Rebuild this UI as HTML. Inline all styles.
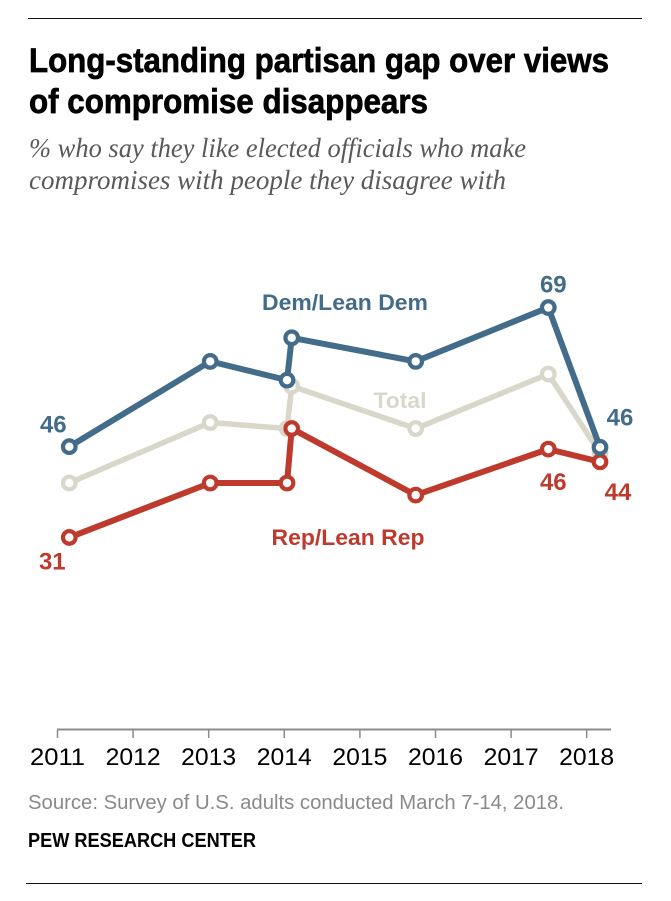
<!DOCTYPE html>
<html lang="en">
<head>
<meta charset="utf-8">
<title>Long-standing partisan gap over views of compromise disappears</title>
<style>
html,body{margin:0;padding:0;background:#fff;}
svg{display:block;}
text{font-family:"Liberation Sans",sans-serif;}
</style>
</head>
<body>
<svg id="chart" xmlns="http://www.w3.org/2000/svg" width="671" height="901" viewBox="0 0 671 901">
  <rect x="0" y="0" width="671" height="901" fill="#fff"/>
  <line x1="28" x2="642" y1="18.5" y2="18.5" stroke="#111" stroke-width="1"/>
  <text x="29" y="72" font-size="34" font-weight="700" fill="#000" stroke="#000" stroke-width="0.7" textLength="580" lengthAdjust="spacingAndGlyphs">Long-standing partisan gap over views</text>
  <text x="29" y="113" font-size="34" font-weight="700" fill="#000" stroke="#000" stroke-width="0.7" textLength="399" lengthAdjust="spacingAndGlyphs">of compromise disappears</text>
  <text x="29" y="157" font-size="27" font-style="italic" fill="#58595b" style="font-family:'Liberation Serif',serif" textLength="497" lengthAdjust="spacingAndGlyphs">% who say they like elected officials who make</text>
  <text x="29" y="189" font-size="27" font-style="italic" fill="#58595b" style="font-family:'Liberation Serif',serif" textLength="477" lengthAdjust="spacingAndGlyphs">compromises with people they disagree with</text>
  <g id="x-axis"></g>
  <g id="series"></g>
  <g id="labels"></g>
  <text x="28" y="809" font-size="20.5" fill="#8a8a8a" textLength="536" lengthAdjust="spacingAndGlyphs">Source: Survey of U.S. adults conducted March 7-14, 2018.</text>
  <text x="28" y="847" font-size="20.5" font-weight="700" fill="#000" textLength="228" lengthAdjust="spacingAndGlyphs">PEW RESEARCH CENTER</text>
  <line x1="26" x2="642" y1="883.5" y2="883.5" stroke="#111" stroke-width="1"/>
</svg>
<script>
var tickYears = [2011, 2012, 2013, 2014, 2015, 2016, 2017, 2018];
var surveyDates = [2011.156, 2013.02, 2014.036, 2014.098, 2015.738, 2017.492, 2018.176];
var demValues = [46, 60.1, 57, 64, 60.1, 69, 45.9];
var totalValues = [40, 50, 49, 56, 49, 58, 45];
var repValues = [31, 40, 40, 49, 38, 45.6, 43.5];

var svgNS = 'http://www.w3.org/2000/svg';
var DEM = '#436b8a', REP = '#bd3a2d', TOTAL = '#d9d7ca';

function xScale(year) { return 57.5 + (year - 2011) * 75.6; }
function yScale(value) { return 725 - value * 6.05; }

function make(tag, attrs, parent) {
  var el = document.createElementNS(svgNS, tag);
  for (var k in attrs) { el.setAttribute(k, attrs[k]); }
  parent.appendChild(el);
  return el;
}

var axisGroup = document.getElementById('x-axis');
var axisLine = make('line', {x1: xScale(2011) - 0.5, x2: 611, y1: 729.5, y2: 729.5, stroke: '#8c8c8c', 'stroke-width': 2}, axisGroup);



tickYears.forEach(function (year) {
  var tick = make('line', {x1: xScale(year), x2: xScale(year), y1: 730, y2: 738, stroke: '#8c8c8c', 'stroke-width': 1.5}, axisGroup);
  
  
  var label = make('text', {x: xScale(year), y: 765, 'text-anchor': 'middle', 'font-size': 24, fill: '#000', textLength: 55, lengthAdjust: 'spacingAndGlyphs'}, axisGroup);
  label.textContent = String(year);
  
  
});

function drawSeries(name, values, color, width) {
  var group = document.getElementById('series');
  var pts = values.map(function (v, i) { return xScale(surveyDates[i]) + ',' + yScale(v); }).join(' ');
  var line = make('polyline', {points: pts, fill: 'none', stroke: color, 'stroke-width': width, 'stroke-linejoin': 'round'}, group);
  
  
  values.forEach(function (v, i) {
    var dot = make('circle', {cx: xScale(surveyDates[i]), cy: yScale(v), r: 6.3, fill: '#fff', stroke: color, 'stroke-width': 4.2}, group);
    
    
  });
}
drawSeries('total', totalValues, TOTAL, 5.5);
drawSeries('rep-lean-rep', repValues, REP, 6);
drawSeries('dem-lean-dem', demValues, DEM, 6);

var labelGroup = document.getElementById('labels');

function valueLabel(values, index, dx, dy, color) {
  var t = make('text', {x: xScale(surveyDates[index]) + dx, y: yScale(values[index]) + dy, 'text-anchor': 'middle', 'font-size': 24, 'font-weight': 700, fill: color}, labelGroup);
  t.textContent = String(Math.round(values[index]));
  
  
}
valueLabel(demValues, 0, -16, -14, DEM);
valueLabel(demValues, 5, 5, -15, DEM);
valueLabel(demValues, 6, 20, -22, DEM);
valueLabel(repValues, 0, -17, 32, REP);
valueLabel(repValues, 5, 5, 41, REP);
valueLabel(repValues, 6, 18, 38, REP);

function seriesLabel(text, centerX, baseY, color, width) {
  var t = make('text', {x: centerX, y: baseY, 'text-anchor': 'middle', 'font-size': 22.5, 'font-weight': 700, fill: color, textLength: width, lengthAdjust: 'spacingAndGlyphs'}, labelGroup);
  t.textContent = text;
  
  
}
seriesLabel('Dem/Lean Dem', 345, 310, DEM, 166);
seriesLabel('Total', 400, 408, TOTAL, 53);
seriesLabel('Rep/Lean Rep', 348, 545, REP, 153);
</script>
</body>
</html>
